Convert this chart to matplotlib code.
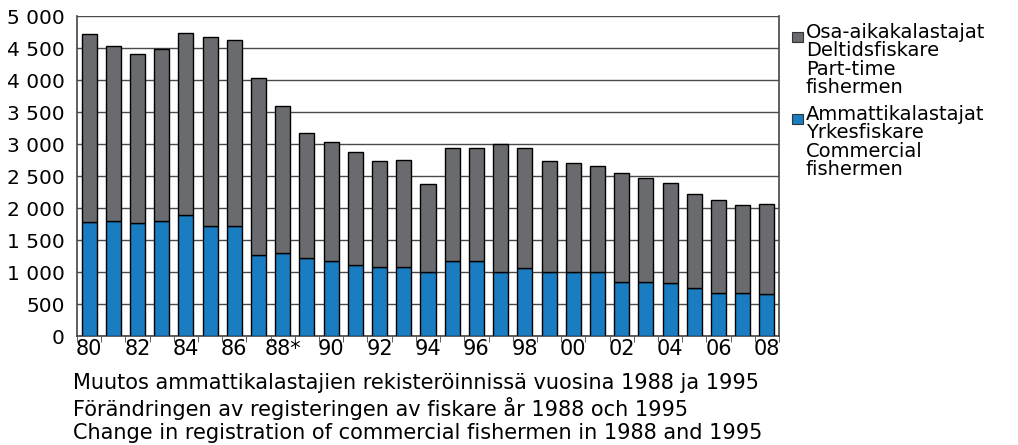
import numpy as np
import matplotlib.pyplot as plt
from matplotlib.patches import Rectangle
from matplotlib.ticker import FuncFormatter, MultipleLocator

# yearly counts 1980-2008
years = list(range(1980, 2009))
commercial = [1776, 1797, 1766, 1802, 1885, 1714, 1714, 1271, 1292, 1224,
              1167, 1115, 1073, 1073, 1000, 1177, 1177, 1005, 1062, 1000,
              1000, 1000, 849, 839, 828, 745, 672, 667, 661]
total = [4719, 4536, 4406, 4490, 4729, 4667, 4630, 4026, 3594, 3177,
         3036, 2875, 2734, 2755, 2370, 2937, 2937, 2995, 2937, 2734,
         2698, 2656, 2552, 2464, 2385, 2214, 2120, 2052, 2068]
parttime = [t - c for t, c in zip(total, commercial)]
tick_labels = ['80', '82', '84', '86', '88*', '90', '92', '94', '96', '98',
               '00', '02', '04', '06', '08']
legend_parttime = ['Osa-aikakalastajat', 'Deltidsfiskare', 'Part-time', 'fishermen']
legend_commercial = ['Ammattikalastajat', 'Yrkesfiskare', 'Commercial', 'fishermen']
notes = ['Muutos ammattikalastajien rekisteröinnissä vuosina 1988 ja 1995',
         'Förändringen av registeringen av fiskare år 1988 och 1995',
         'Change in registration of commercial fishermen in 1988 and 1995']

blue = '#1a7dc2'
gray = '#6a6b6f'
W, H = 1018, 445

plt.rcParams['font.family'] = ['DejaVu Sans']

fig = plt.figure(figsize=(W / 100, H / 100), dpi=100)
ax = fig.add_axes([77 / W, 1 - 336 / H, 702 / W, 320 / H])

x = np.arange(len(years))
ax.bar(x, commercial, width=0.62, color=blue, edgecolor='black', linewidth=1, zorder=3)
ax.bar(x, parttime, bottom=commercial, width=0.62, color=gray, edgecolor='black',
       linewidth=1, zorder=3)

ax.set_xlim(-0.5, len(years) - 0.5)
ax.set_ylim(0, 5000)
ax.yaxis.set_major_locator(MultipleLocator(500))
ax.yaxis.set_major_formatter(FuncFormatter(lambda v, p: f'{int(v):,}'.replace(',', ' ')))
ax.grid(axis='y', color='#4a4a4a', linewidth=1, zorder=0)
ax.tick_params(axis='y', length=0, labelsize=14.5, pad=9)

ax.set_xticks(x[::2])
ax.set_xticklabels(tick_labels)
ax.set_xticks(np.arange(-0.5, len(years), 1), minor=True)
ax.tick_params(axis='x', which='major', length=0, labelsize=15, pad=2)
ax.tick_params(axis='x', which='minor', length=4, color='#444444', direction='out')

for s in ['left', 'bottom', 'right']:
    ax.spines[s].set_color('#444444')
    ax.spines[s].set_linewidth(1.2)
ax.spines['top'].set_visible(False)

# legend drawn by hand so the square sits on the first line
leg_fs = 14
asc = 0.93 * leg_fs * 100 / 72
for lines, color, y0 in [(legend_parttime, gray, 41), (legend_commercial, blue, 123)]:
    fig.patches.append(Rectangle((792 / W, 1 - (y0 + 1) / H), 11 / W, 10 / H,
                                 transform=fig.transFigure, facecolor=color,
                                 edgecolor='#333333', linewidth=0.8))
    fig.text(806 / W, 1 - (y0 - asc) / H, '\n'.join(lines), fontsize=leg_fs, va='top',
             ha='left', linespacing=17.5 / asc)

note_fs = 15
asc = 0.93 * note_fs * 100 / 72
fig.text(73 / W, 1 - (392 - asc) / H, '\n'.join(notes), fontsize=note_fs, va='top',
         ha='left', linespacing=23.5 / asc)

fig.savefig('out.png', dpi=100)
